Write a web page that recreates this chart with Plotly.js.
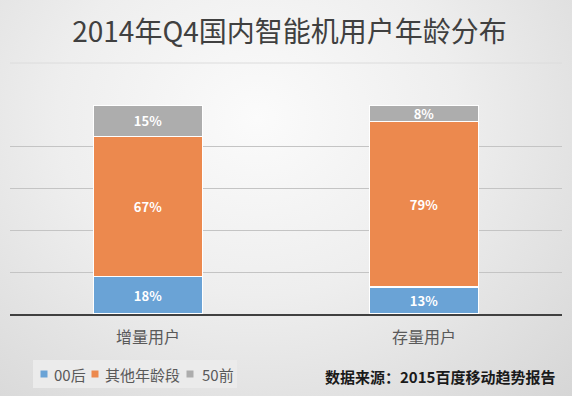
<!DOCTYPE html>
<html>
<head>
<meta charset="utf-8">
<script src="https://cdn.plot.ly/plotly-3.0.1.min.js"></script>
<style>
html,body{margin:0;padding:0;width:572px;height:396px;overflow:hidden;}
body{background:radial-gradient(ellipse at 45% 30%, #fbfbfb 0%, #eeeeee 45%, #d6d6d6 100%);}
#chart{width:572px;height:396px;}
</style>
</head>
<body>
<div id="chart"></div>
<script>
const categories = ['增量用户', '存量用户'];
const seriesNames = ['00后', '其他年龄段', '50前'];
const after00 = [18, 13];
const otherAges = [67, 79];
const before50 = [15, 8];
const colors = ['#6aa3d6', '#ec894e', '#adadad'];

const font = '"Noto Sans CJK SC", "Noto Sans", sans-serif';
const series = [after00, otherAges, before50];

// plot area in pixels (used to place the hand-made legend)
const M = {l: 10, r: 10, t: 105, b: 82};
const W = 572, H = 396;
const pw = W - M.l - M.r, ph = H - M.t - M.b;
const px = v => (v - M.l) / pw;
const py = v => (H - M.b - v) / ph;

const traces = series.map((vals, i) => ({
  type: 'bar',
  name: seriesNames[i],
  x: categories,
  y: vals,
  marker: {color: colors[i], line: {color: '#ffffff', width: 1.5}},
  texttemplate: '%{y}%',
  textposition: 'inside',
  insidetextanchor: 'middle',
  constraintext: 'none',
  textfont: {color: '#ffffff', size: 13, family: font, weight: 'bold'},
  hoverinfo: 'skip',
  showlegend: false
}));

// legend drawn with shapes + annotations for compact spacing
const legendSquares = [44, 95, 190];
const legendTexts = [52, 103, 200];
const legendY = 374;
const shapes = [
  {type: 'line', xref: 'paper', yref: 'paper', x0: 0, x1: 1, y0: py(63), y1: py(63),
   line: {color: '#dcdcdc', width: 1}},
  {type: 'rect', xref: 'paper', yref: 'paper', x0: px(33), x1: px(237), y0: py(360), y1: py(388),
   fillcolor: '#ebebeb', line: {width: 0}, layer: 'below'}
];
const annotations = [];
seriesNames.forEach((n, i) => {
  shapes.push({type: 'rect', xref: 'paper', yref: 'paper',
    x0: px(legendSquares[i] - 3.5), x1: px(legendSquares[i] + 3.5),
    y0: py(legendY - 3.5), y1: py(legendY + 3.5),
    fillcolor: colors[i], line: {width: 0}});
  annotations.push({text: n, xref: 'paper', yref: 'paper', x: px(legendTexts[i]), y: py(legendY),
    xanchor: 'left', yanchor: 'middle', showarrow: false,
    font: {size: 15, color: '#595959', family: font}});
});
annotations.push({text: '数据来源：2015百度移动趋势报告', xref: 'paper', yref: 'paper',
  x: px(323), y: py(376), xanchor: 'left', yanchor: 'middle', showarrow: false,
  font: {size: 15, color: '#1a1a1a', family: font, weight: 'bold'}});

const layout = {
  width: W, height: H,
  barmode: 'stack',
  bargap: 0.605,
  paper_bgcolor: 'rgba(0,0,0,0)',
  plot_bgcolor: 'rgba(0,0,0,0)',
  margin: M,
  font: {family: font, color: '#595959'},
  title: {text: '2014年Q4国内智能机用户年龄分布', x: 289.5 / W, xanchor: 'center', y: 1 - 32 / H, yanchor: 'middle',
          font: {size: 28, color: '#404040', family: font}},
  xaxis: {showgrid: false, showline: true, linecolor: '#404040', linewidth: 2,
          tickfont: {size: 16, color: '#595959', family: font}, ticks: '', ticklabelstandoff: 8,
          fixedrange: true},
  yaxis: {range: [0, 100], dtick: 20, showticklabels: false, showgrid: true,
          gridcolor: '#c4c4c4', gridwidth: 1, zeroline: false, fixedrange: true},
  showlegend: false,
  shapes: shapes,
  annotations: annotations
};

Plotly.newPlot('chart', traces, layout, {displayModeBar: false, staticPlot: true});
</script>
</body>
</html>
